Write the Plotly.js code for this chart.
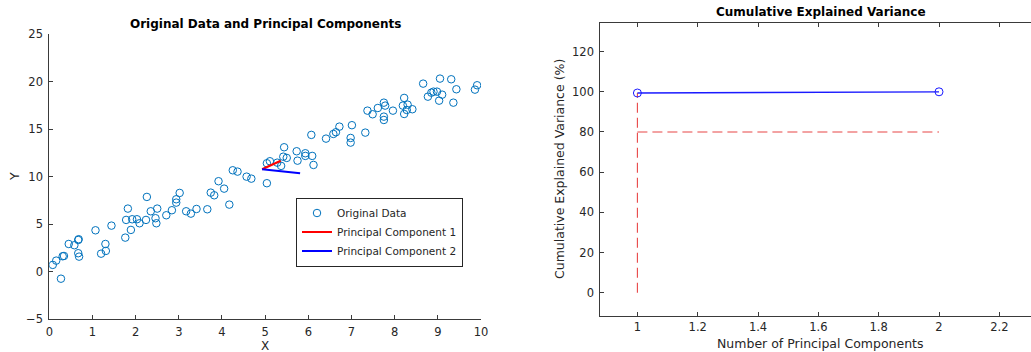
<!DOCTYPE html>
<html>
<head>
<meta charset="utf-8">
<script src="https://cdn.plot.ly/plotly-3.0.1.min.js"></script>
<style>html,body{margin:0;padding:0;background:#fff;overflow:hidden}#chart{width:1031px;height:352px}</style>
</head>
<body>
<div id="chart"></div>
<script>
// ---- Data ----
const dataX = [0.08,0.16,0.27,0.31,0.34,0.45,0.58,0.67,0.68,0.67,0.69,1.07,1.20,1.30,1.31,1.44,1.76,1.82,1.78,1.89,1.92,2.03,2.09,2.24,2.26,2.35,2.46,2.48,2.50,2.71,2.84,2.94,2.94,3.02,3.17,3.28,3.41,3.66,4.17,3.74,3.82,4.05,3.92,4.25,4.36,4.57,4.68,5.04,5.04,5.11,5.28,5.37,5.42,5.50,5.44,5.73,5.75,5.93,5.93,6.09,6.12,6.07,6.41,6.58,6.64,6.72,6.98,6.98,7.01,7.32,7.37,7.49,7.61,7.75,7.78,7.75,7.75,7.96,8.22,8.19,8.30,8.22,8.28,8.41,8.66,8.77,8.85,8.90,8.98,9.03,9.10,9.05,9.31,9.43,9.36,9.86,9.91];
const dataY = [0.72,1.17,-0.73,1.63,1.66,2.92,2.79,3.34,3.42,1.95,1.59,4.36,1.90,2.92,2.19,4.85,3.59,6.64,5.45,4.40,5.52,5.52,5.10,5.45,7.87,6.36,5.63,5.10,6.64,5.94,6.47,7.27,7.62,8.29,6.36,6.11,6.60,6.57,7.06,8.32,8.04,8.74,9.52,10.67,10.53,10.00,9.79,9.31,11.41,11.62,11.47,11.13,12.10,11.97,13.09,12.67,11.68,12.46,12.18,12.18,11.23,14.39,14.00,14.49,14.67,15.26,14.07,13.58,15.41,14.63,16.94,16.56,17.22,17.78,17.47,16.31,15.96,16.94,18.28,17.47,17.57,16.59,17.01,17.09,19.78,18.41,18.83,18.94,18.94,17.99,18.62,20.31,20.24,19.19,17.78,19.15,19.61];
const pcMean = [4.93, 10.78];
const pc1End = [5.36, 11.68];
const pc2End = [5.81, 10.36];
const legendNames = ["Original Data", "Principal Component 1", "Principal Component 2"];
const numComponents = [1, 2];
const cumVariance = [99.4, 100];
const threshold = 80;
const titles = ["Original Data and Principal Components", "Cumulative Explained Variance"];
const axisTitles = {x1: "X", y1: "Y", x2: "Number of Principal Components", y2: "Cumulative Explained Variance (%)"};

// ---- Styling ----
const W = 1031, H = 352;
const px = v => v / W, py = v => 1 - v / H;
const FONT = "DejaVu Sans, Liberation Sans, Arial, sans-serif";
const AX = "#3a3a3a", TXT = "#262626";
const tickFont = {family: FONT, size: 11.5, color: TXT};

const traces = [
  {x: dataX, y: dataY, type: "scatter", mode: "markers", name: legendNames[0],
   marker: {symbol: "circle-open", size: 7.5, color: "#0072BD", line: {width: 1, color: "#0072BD"}},
   xaxis: "x", yaxis: "y"},
  {x: [pcMean[0], pc1End[0]], y: [pcMean[1], pc1End[1]], type: "scatter", mode: "lines", name: legendNames[1],
   line: {color: "#ff0000", width: 2.2}, xaxis: "x", yaxis: "y"},
  {x: [pcMean[0], pc2End[0]], y: [pcMean[1], pc2End[1]], type: "scatter", mode: "lines", name: legendNames[2],
   line: {color: "#0000ff", width: 2.2}, xaxis: "x", yaxis: "y"},
  // right panel
  {x: [numComponents[0], numComponents[numComponents.length - 1]], y: [threshold, threshold], type: "scatter", mode: "lines",
   showlegend: false, line: {color: "rgb(232,70,70)", width: 1.1, dash: "10px,5px"}, xaxis: "x2", yaxis: "y2", hoverinfo: "skip"},
  {x: [numComponents[0], numComponents[0]], y: [0, cumVariance[0]], type: "scatter", mode: "lines",
   showlegend: false, line: {color: "rgb(232,70,70)", width: 1.1, dash: "10px,5px"}, xaxis: "x2", yaxis: "y2", hoverinfo: "skip"},
  {x: numComponents, y: cumVariance, type: "scatter", mode: "lines+markers", showlegend: false,
   line: {color: "#1a1aff", width: 1.3},
   marker: {symbol: "circle-open", size: 8, color: "#1a1aff", line: {width: 1, color: "#1a1aff"}},
   xaxis: "x2", yaxis: "y2"}
];

const axBase = {showgrid: false, zeroline: false, showline: true, linecolor: AX, linewidth: 1,
  ticks: "inside", ticklen: 4, tickwidth: 1, tickcolor: AX, tickfont: tickFont, fixedrange: true};

const ann = (text, x, y, opts) => Object.assign({text, x: px(x), y: py(y), xref: "paper", yref: "paper",
  showarrow: false, xanchor: "center", yanchor: "middle", font: {family: FONT, size: 12.5, color: TXT}}, opts || {});

const layout = {
  width: W, height: H,
  margin: {l: 0, r: 0, t: 0, b: 0, pad: 0},
  paper_bgcolor: "#ffffff", plot_bgcolor: "#ffffff",
  showlegend: true,
  legend: {x: px(296), y: py(232), xanchor: "left", yanchor: "middle",
    bgcolor: "#ffffff", bordercolor: "#262626", borderwidth: 1,
    font: {family: FONT, size: 10.5, color: TXT}},
  xaxis: Object.assign({}, axBase, {domain: [px(49.3), px(481)], range: [0, 10], dtick: 1, tick0: 0, anchor: "y", ticklabelstandoff: 2}),
  yaxis: Object.assign({}, axBase, {domain: [py(319.3), py(34)], range: [-5, 25], dtick: 5, tick0: 0, anchor: "x", ticklabelstandoff: 3}),
  xaxis2: Object.assign({}, axBase, {domain: [px(600.3), 1], range: [0.877, 2.305], dtick: 0.2, tick0: 0, anchor: "y2", mirror: "ticks", ticklabelstandoff: 0}),
  yaxis2: Object.assign({}, axBase, {domain: [py(316), py(22.7)], range: [-11.6, 134.4], dtick: 20, tick0: 0, anchor: "x2", ticklabelstandoff: 3}),
  annotations: [
    ann(titles[0], 265.2, 23.5, {font: {family: FONT, size: 12, color: "#000", weight: "bold"}}),
    ann(titles[1], 820.5, 12, {font: {family: FONT, size: 12, color: "#000", weight: "bold"}}),
    ann(axisTitles.x1, 265.2, 345.5, {font: {family: FONT, size: 12, color: TXT}}),
    ann(axisTitles.y1, 14, 177, {textangle: -90}),
    ann(axisTitles.x2, 820.5, 343.5),
    ann(axisTitles.y2, 559, 169, {textangle: -90})
  ]
};

Plotly.newPlot("chart", traces, layout, {displayModeBar: false, staticPlot: true});
</script>
</body>
</html>
